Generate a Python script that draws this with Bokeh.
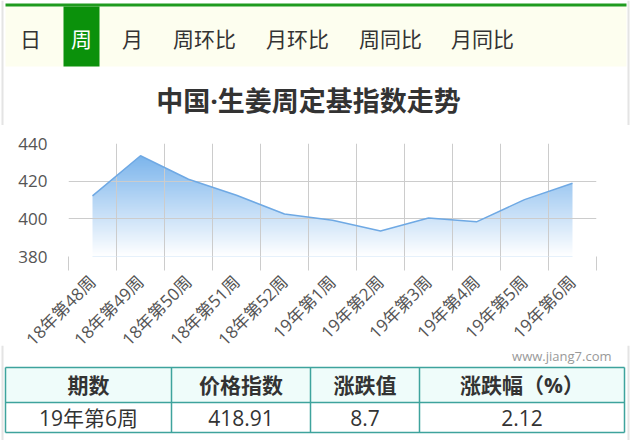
import math
import numpy as np
from bokeh.plotting import figure
from bokeh.models import Range1d, FixedTicker, CustomJSTickFormatter
from bokeh.embed import file_html
from bokeh.resources import INLINE
from bokeh.core.properties import value

# ---------------- data ----------------
weeks = ["18年第48周", "18年第49周", "18年第50周", "18年第51周", "18年第52周",
         "19年第1周", "19年第2周", "19年第3周", "19年第4周", "19年第5周", "19年第6周"]
index_values = [412.2, 433.5, 421.0, 412.5, 402.6, 399.3, 393.5, 400.4, 398.4, 410.21, 418.91]
y_ticks = [380, 400, 420, 440]

tabs = ["日", "周", "月", "周环比", "月环比", "周同比", "月同比"]
selected_tab = "周"

title_text = "中国·生姜周定基指数走势"
watermark = "www.jiang7.com"
table_header = ["期数", "价格指数", "涨跌值", "涨跌幅（%）"]
table_row = ["19年第6周", "418.91", "8.7", "2.12"]

# ---------------- style ----------------
MIXED = "Open Sans, 'Noto Sans CJK SC'"
FONT = value(MIXED)
W = 630
GREEN = "#0b910b"
CREAM = "#fdfeef"
SIDE = "#e4e4e4"
GRID = "#cccccc"
BLUE = "#7cb5ec"
TEAL = "#3ea39d"


def blank(h, **kw):
    p = figure(width=W, height=h, x_range=Range1d(0, W), y_range=Range1d(h, 0),
               toolbar_location=None, output_backend="svg",
               x_axis_location=None, y_axis_location=None, min_border=0,
               outline_line_color=None, background_fill_color="white",
               border_fill_color="white", **kw)
    p.grid.visible = False
    p.segment(x0=[2, 628], y0=[0, 0], x1=[2, 628], y1=[h, h], line_color=SIDE, line_width=2)
    return p


# ---------------- top: tabs + title ----------------
top = blank(125)
top.quad(left=5, right=626, top=6, bottom=66, fill_color=CREAM, line_color=None)
top.quad(left=5, right=626, top=3, bottom=6, fill_color="#1f9b1f", line_color=None)
tab_x = [30, 81, 132, 204, 297, 390, 482]
sel = tabs.index(selected_tab)
top.quad(left=63, right=99, top=6, bottom=66, fill_color=GREEN, line_color=None)
top.text(x=tab_x, y=[37] * len(tabs), text=tabs,
         text_color=["white" if i == sel else "#333333" for i in range(len(tabs))],
         text_font=value("Noto Sans CJK SC"), text_font_size="21px",
         text_align="center", text_baseline="middle")
top.text(x=[308], y=[100], text=[title_text], text_color="#333333", text_font=FONT,
         text_font_size="27px", text_font_style="bold", text_align="center",
         text_baseline="middle")

# ---------------- chart ----------------
n = len(weeks)
xs = np.arange(n) + 0.5
p = figure(width=W, height=240, x_range=Range1d(0, n), y_range=Range1d(y_ticks[0], y_ticks[-1]),
           toolbar_location=None, output_backend="svg",
           min_border_left=68, min_border_right=34, min_border_top=18, min_border_bottom=109,
           outline_line_color=None, background_fill_color="white", border_fill_color="white")

area = p.varea(x=xs, y1=y_ticks[0], y2=index_values, fill_color=BLUE)
area.level = "image"

# white fade overlay to form the vertical gradient
rows = 240
ys = np.linspace(y_ticks[0], y_ticks[-1], rows)
top_v = max(index_values)
alpha = np.clip((top_v - ys) / (top_v - y_ticks[0]), 0, 1)
img = np.empty((rows, 2), dtype=np.uint32)
view = img.view(dtype=np.uint8).reshape((rows, 2, 4))
view[:, :, 0:3] = 255
view[:, :, 3] = (alpha * 255).astype(np.uint8)[:, None]
ov = p.image_rgba(image=[img], x=0, y=y_ticks[0], dw=n, dh=y_ticks[-1] - y_ticks[0])
ov.level = "image"

p.line(x=xs, y=index_values, line_color="#6fa9e4", line_width=1.5)

p.xgrid.ticker = FixedTicker(ticks=list(range(n + 1)))
p.ygrid.ticker = FixedTicker(ticks=y_ticks)
p.grid.grid_line_color = GRID
p.grid.grid_line_width = 1

xa = p.xaxis[0]
xa.ticker = FixedTicker(ticks=list(xs), minor_ticks=list(range(n + 1)))
xa.formatter = CustomJSTickFormatter(args=dict(labels=weeks), code="""
const i = Math.round(tick - 0.5);
return (i >= 0 && i < labels.length) ? labels[i] : '';
""")
xa.axis_line_color = None
xa.major_tick_line_color = None
xa.major_tick_out = 0
xa.major_tick_in = 0
xa.minor_tick_line_color = GRID
xa.minor_tick_out = 14
xa.minor_tick_in = 0
xa.major_label_orientation = math.pi / 4
xa.major_label_standoff = 8
xa.major_label_text_font = MIXED
xa.major_label_text_font_size = "17px"
xa.major_label_text_color = "#555555"

ya = p.yaxis[0]
ya.ticker = FixedTicker(ticks=y_ticks)
ya.axis_line_color = None
ya.major_tick_line_color = None
ya.major_tick_out = 0
ya.major_tick_in = 0
ya.minor_tick_line_color = None
ya.major_label_standoff = 21
ya.major_label_text_font = MIXED
ya.major_label_text_font_size = "17px"
ya.major_label_text_color = "#555555"

# ---------------- bottom: watermark + table (pulled up over the chart's empty margin) ----------------
bot = blank(95, styles={"margin-top": "-20px"})
bot.text(x=[611], y=[10], text=[watermark], text_color="#999999", text_font=FONT,
         text_font_size="13px", text_align="right", text_baseline="middle")
col_edges = [5, 171, 310, 419, 624]
row_edges = [22, 57, 87]
bot.quad(left=col_edges[0], right=col_edges[-1], top=row_edges[0], bottom=row_edges[1],
         fill_color="#effcfa", line_color=None)
hx = [[col_edges[0], col_edges[-1]] for _ in row_edges] + [[c, c] for c in col_edges]
hy = [[r, r] for r in row_edges] + [[row_edges[0], row_edges[-1]] for _ in col_edges]
bot.multi_line(xs=hx, ys=hy, line_color=TEAL, line_width=1.5)
centers = [(a + b) / 2 for a, b in zip(col_edges[:-1], col_edges[1:])]
bot.text(x=centers, y=[(row_edges[0] + row_edges[1]) / 2] * 4, text=table_header,
         text_color="#333333", text_font=FONT, text_font_size="21px", text_font_style="bold",
         text_align="center", text_baseline="middle")
bot.text(x=centers, y=[(row_edges[1] + row_edges[2]) / 2] * 4, text=table_row,
         text_color="#333333", text_font=FONT, text_font_size="21px",
         text_align="center", text_baseline="middle")

open("out.html", "w").write(file_html([top, p, bot], INLINE))
